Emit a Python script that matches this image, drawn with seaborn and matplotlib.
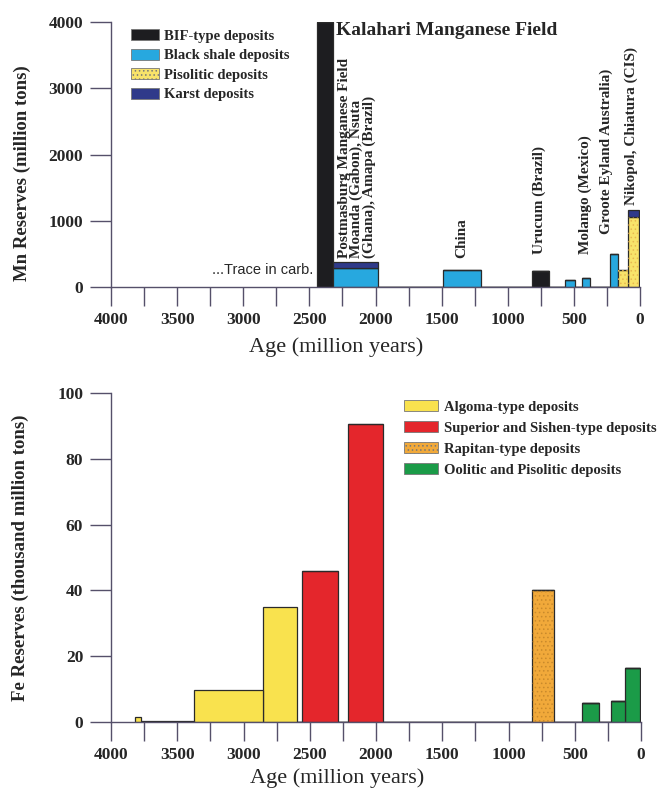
import numpy as np
import pandas as pd
import matplotlib.pyplot as plt
import seaborn as sns
from matplotlib.patches import Patch, Rectangle
from matplotlib.ticker import MultipleLocator
from matplotlib.colors import to_rgb

# Mn reserves (top panel), ages in million years
mn_type = ["BIF-type deposits", "Black shale deposits", "Karst deposits",
           "Black shale deposits", "BIF-type deposits", "Black shale deposits",
           "Black shale deposits", "Black shale deposits", "Pisolitic deposits",
           "Pisolitic deposits", "Karst deposits"]
mn_start = [2440, 2320, 2320, 1490, 820, 565, 440, 225, 170, 93, 93]
mn_end = [2320, 1980, 1980, 1200, 690, 495, 380, 170, 93, 10, 10]
mn_reserves = [4000, 290, 90, 250, 240, 100, 140, 500, 250, 1050, 110]

# Fe reserves (bottom panel), thousand million tons
fe_type = ["Algoma-type deposits", "Algoma-type deposits", "Algoma-type deposits",
           "Algoma-type deposits", "Superior and Sishen-type deposits",
           "Superior and Sishen-type deposits", "Rapitan-type deposits",
           "Oolitic and Pisolitic deposits", "Oolitic and Pisolitic deposits",
           "Oolitic and Pisolitic deposits"]
fe_start = [3820, 3770, 3370, 2850, 2560, 2210, 820, 445, 225, 118]
fe_end = [3770, 3370, 2850, 2600, 2290, 1950, 655, 320, 118, 5]
fe_reserves = [1.5, 0.4, 9.7, 35, 46, 90.5, 40, 5.7, 6.5, 16.5]

mn_types = ["BIF-type deposits", "Black shale deposits", "Pisolitic deposits", "Karst deposits"]
fe_types = ["Algoma-type deposits", "Superior and Sishen-type deposits",
            "Rapitan-type deposits", "Oolitic and Pisolitic deposits"]

mn_colors = {"BIF-type deposits": "#1d1d20", "Black shale deposits": "#27a8df",
             "Pisolitic deposits": "#f8e36a", "Karst deposits": "#2f3a8a"}
fe_colors = {"Algoma-type deposits": "#f9e24e", "Superior and Sishen-type deposits": "#e4262c",
             "Rapitan-type deposits": "#f1a93a", "Oolitic and Pisolitic deposits": "#1b9b48"}
dotted = {"Pisolitic deposits": "#e8b850", "Rapitan-type deposits": "#c98a2c"}

axis_color = "#55506a"
edge = "#2a2a2a"

sns.set_style("ticks")
plt.rcParams['font.family'] = ['Liberation Serif', 'DejaVu Serif']
plt.rcParams['hatch.linewidth'] = 0.6

fig = plt.figure(figsize=(6.63, 7.97), dpi=100)
W, H = 663, 797
ax1 = fig.add_axes([111 / W, 1 - 287 / H, (640 - 111) / W, (287 - 22) / H])
ax2 = fig.add_axes([111 / W, 1 - 722 / H, (641 - 111) / W, (722 - 393) / H])


def draw_panel(ax, types, start, end, values, order, colors):
    df = pd.DataFrame({"type": types, "start": start, "end": end, "value": values})
    df["mid"] = (df["start"] + df["end"]) / 2
    edges = sorted(set(start) | set(end))
    # stacking puts the first hue level on top
    sns.histplot(data=df, x="mid", weights="value", hue="type",
                 hue_order=order, palette=colors, bins=edges,
                 multiple="stack", element="bars", fill=True, alpha=1,
                 edgecolor=edge, linewidth=0.9, legend=False, ax=ax)
    for p in list(ax.patches):
        for name, dot in dotted.items():
            if name in colors and p.get_height() > 0 and \
                    np.allclose(p.get_facecolor()[:3], to_rgb(colors[name]), atol=0.01):
                ax.add_patch(Rectangle(p.get_xy(), p.get_width(), p.get_height(),
                                       fill=False, hatch="....", edgecolor=dot, linewidth=0))


def style_axis(ax, ymax, ystep):
    ax.set_xlim(4000, 0)
    ax.set_ylim(0, ymax)
    ax.xaxis.set_major_locator(MultipleLocator(500))
    ax.xaxis.set_minor_locator(MultipleLocator(250))
    ax.yaxis.set_major_locator(MultipleLocator(ystep))
    sns.despine(ax=ax)
    for s in ["left", "bottom"]:
        ax.spines[s].set_color(axis_color)
        ax.spines[s].set_linewidth(1.0)
    ax.tick_params(axis="x", which="both", length=14, width=1, color=axis_color, pad=4)
    ax.tick_params(axis="y", length=15, width=1, color=axis_color, pad=5)
    for lab in ax.get_xticklabels() + ax.get_yticklabels():
        lab.set_fontweight("bold")
        lab.set_fontsize(12.5)
    ax.set_xlabel("Age (million years)", fontsize=16)
    ax.set_ylabel("")


# ---- Mn panel
draw_panel(ax1, mn_type, mn_start, mn_end, mn_reserves,
           ["Karst deposits", "Pisolitic deposits", "Black shale deposits", "BIF-type deposits"],
           mn_colors)
style_axis(ax1, 4000, 1000)
ax1.set_ylabel("Mn Reserves (million tons)", fontsize=13.5, fontweight="bold")
ax1.yaxis.set_label_coords(-0.152, 0.43)
ax1.xaxis.set_label_coords(0.425, -0.19)

ax1.text(2300, 3870, "Kalahari Manganese Field", fontsize=14, fontweight="bold",
         ha="left", va="center")
ax1.text(2470, 250, "...Trace in carb.", fontsize=10.5, family="Liberation Sans",
         ha="right", va="center")
site_labels = [
    (2140, 440, "Postmasburg Manganese Field\nMoanda (Gabon), Nsuta\n(Ghana), Amapa (Brazil)"),
    (1350, 440, "China"),
    (760, 500, "Urucum (Brazil)"),
    (415, 500, "Molango (Mexico)"),
    (255, 800, "Groote Eyland Australia)"),
    (68, 1240, "Nikopol, Chiatura (CIS)"),
]
for x, y, s in site_labels:
    ax1.text(x, y, s, rotation=90, fontsize=11, fontweight="bold",
             ha="center", va="bottom", multialignment="left", linespacing=0.95)

mn_handles = [Patch(facecolor=mn_colors[t], edgecolor="#777777", linewidth=0.6,
                    hatch="...." if t in dotted else None) for t in mn_types]
ax1.legend(mn_handles, mn_types, loc="upper left", bbox_to_anchor=(124 / W, 1 - 22 / H),
           bbox_transform=fig.transFigure, frameon=False, borderpad=0,
           handlelength=1.9, handleheight=0.8, handletextpad=0.35, labelspacing=0.4,
           prop={"weight": "bold", "size": 10.5})

# ---- Fe panel
draw_panel(ax2, fe_type, fe_start, fe_end, fe_reserves, fe_types, fe_colors)
style_axis(ax2, 100, 20)
ax2.set_ylabel("Fe Reserves (thousand million tons)", fontsize=13.5, fontweight="bold")
ax2.yaxis.set_label_coords(-0.155, 0.5)
ax2.xaxis.set_label_coords(0.427, -0.14)

fe_handles = [Patch(facecolor=fe_colors[t], edgecolor="#777777", linewidth=0.6,
                    hatch="...." if t in dotted else None) for t in fe_types]
ax2.legend(fe_handles, fe_types, loc="upper left", bbox_to_anchor=(397 / W, 1 - 393 / H),
           bbox_transform=fig.transFigure, frameon=False, borderpad=0,
           handlelength=2.3, handleheight=0.8, handletextpad=0.4, labelspacing=0.5,
           prop={"weight": "bold", "size": 10.5})

fig.savefig("out.png", dpi=100)
